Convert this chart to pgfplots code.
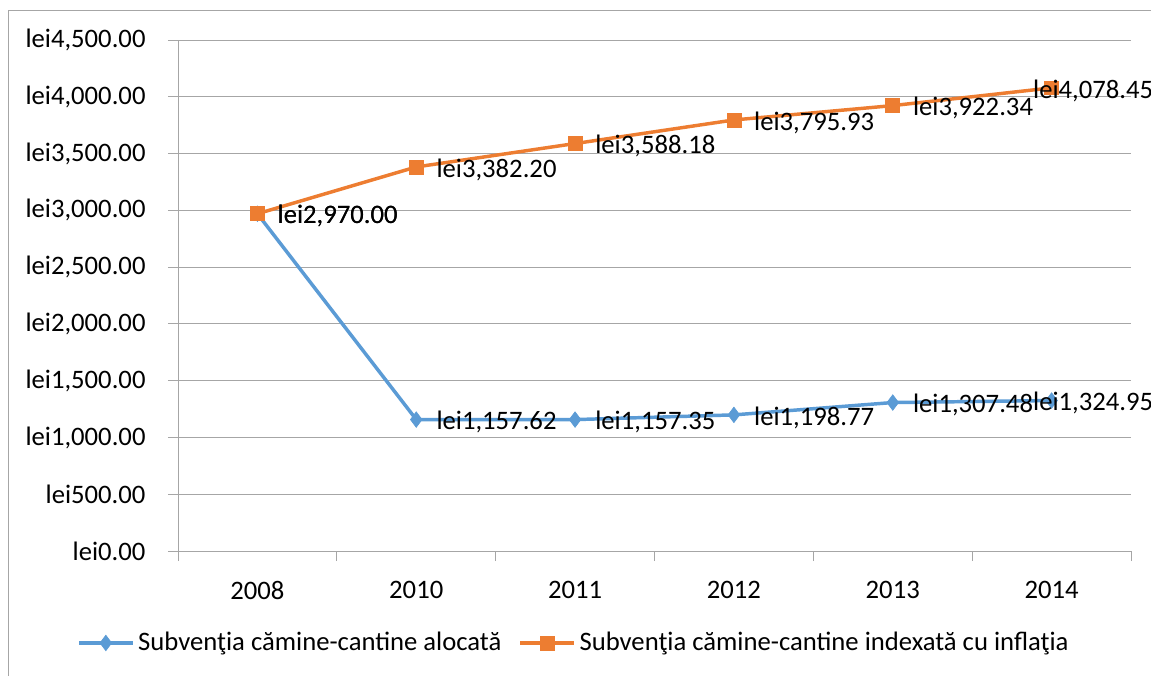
\documentclass[border=0pt]{standalone}
\usepackage{fontspec}
\setmainfont{Carlito}
\usepackage{pgfplots}
\pgfplotsset{compat=1.18}
\definecolor{cblue}{HTML}{5B9BD5}
\definecolor{corange}{HTML}{ED7D31}
\definecolor{gridc}{HTML}{A6A6A6}
\pgfplotstableread{
x y
0 2970.00
1 1157.62
2 1157.35
3 1198.77
4 1307.48
5 1324.95
}\alocata
\pgfplotstableread{
x y
0 2970.00
1 3382.20
2 3588.18
3 3795.93
4 3922.34
5 4078.45
}\indexata
\newcommand{\lbl}{lei\pgfmathprintnumber[fixed,fixed zerofill,precision=2,1000 sep={,}]{\pgfplotspointmeta}}
\newcommand{\chartfont}{\fontsize{20}{24}\selectfont}
\begin{document}
\chartfont
\begin{tikzpicture}[font=\chartfont]
\useasboundingbox (0,0) rectangle (863.25pt,507pt);
\draw[gridc, line width=0.75pt] (6pt,0) -- (6pt,498.75pt) -- (863.25pt,498.75pt);
\begin{axis}[
  at={(133.5pt,93.75pt)}, anchor=south west,
  scale only axis, width=714.75pt, height=383.25pt,
  xmin=-0.5, xmax=5.5, ymin=0, ymax=4500,
  axis x line*=bottom, axis y line*=left,
  axis line style={-, gridc, line width=0.75pt},
  tick align=outside, xtick pos=bottom, ytick pos=left,
  major tick length=7.5pt, minor tick length=7.5pt,
  tick style={gridc, line width=0.75pt},
  xtick={0,...,5}, xticklabels={2008,2010,2011,2012,2013,2014},
  major x tick style={draw=none},
  minor xtick={-0.5,0.5,...,5.5},
  ytick={0,500,...,4500},
  yticklabel={lei\pgfmathprintnumber[fixed,fixed zerofill,precision=2,1000 sep={,}]{\tick}},
  /pgf/number format/assume math mode=true,
  ymajorgrids, grid style={gridc, line width=0.75pt},
  ticklabel style={font=\chartfont},
  xticklabel style={yshift=-8pt},
  yticklabel style={xshift=-10pt},
  clip=false,
  legend style={at={(0.4166,-0.18)}, anchor=center, draw=none, fill=none,
    legend columns=2, font=\chartfont,
    /tikz/every even column/.append style={column sep=10pt},
    nodes={inner xsep=3pt}},
  legend image code/.code={\draw[mark repeat=2,mark phase=2,#1] plot coordinates {(0pt,0pt) (20pt,0pt) (40pt,0pt)};},
]
\addplot[cblue, line width=2.6pt, mark=diamond*, mark size=5.8pt, mark options={solid, line width=0.5pt}] table {\alocata};
\addlegendentry{Subvenţia cămine-cantine alocată}
\addplot[corange, line width=2.6pt, mark=square*, mark size=5.2pt, mark options={solid, line width=0.5pt}] table {\indexata};
\addlegendentry{Subvenţia cămine-cantine indexată cu inflaţia}
% data labels
\addplot[draw=none, mark=none, forget plot, nodes near coords={\lbl},
  nodes near coords style={anchor=west, xshift=15pt, yshift=-2pt, text=black, inner sep=0pt, font=\chartfont},
  skip coords between index={5}{6}] table {\alocata};
\addplot[draw=none, mark=none, forget plot, nodes near coords={\lbl},
  nodes near coords style={anchor=west, xshift=-14pt, yshift=-2pt, text=black, inner sep=0pt, font=\chartfont},
  skip coords between index={0}{5}] table {\alocata};
\addplot[draw=none, mark=none, forget plot, nodes near coords={\lbl},
  nodes near coords style={anchor=west, xshift=15pt, yshift=-2pt, text=black, inner sep=0pt, font=\chartfont},
  skip coords between index={5}{6}] table {\indexata};
\addplot[draw=none, mark=none, forget plot, nodes near coords={\lbl},
  nodes near coords style={anchor=west, xshift=-14pt, yshift=-2pt, text=black, inner sep=0pt, font=\chartfont},
  skip coords between index={0}{5}] table {\indexata};
\end{axis}
\end{tikzpicture}
\end{document}
